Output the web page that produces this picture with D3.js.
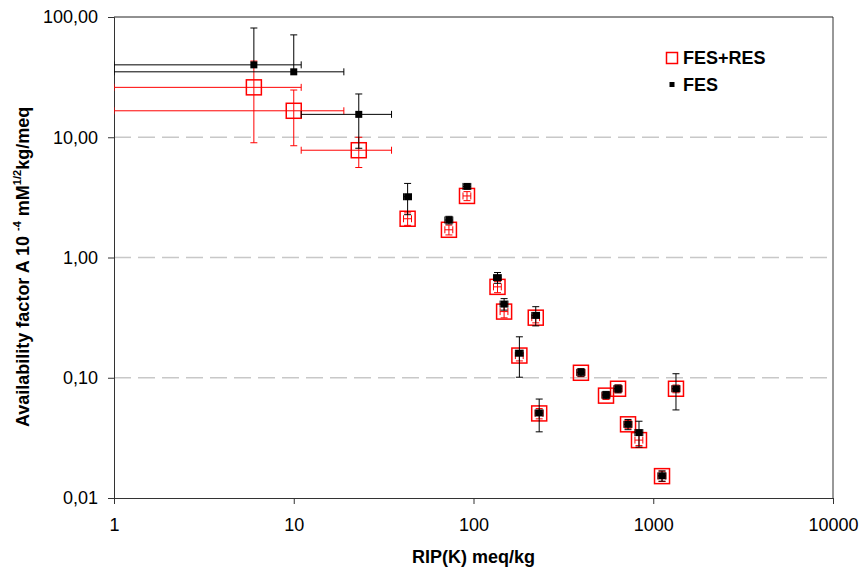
<!DOCTYPE html>
<html><head><meta charset="utf-8">
<script src="https://cdn.jsdelivr.net/npm/d3@7"></script>
<style>body{margin:0;background:#fff}svg{display:block}text{font-family:"Liberation Sans",Arial,sans-serif}</style>
</head><body>
<svg id="c" width="862" height="572"></svg>
<script>
const xVals   = [6, 10, 23, 43, 73, 92, 136, 148, 222, 180, 232, 396, 546, 637, 724, 833, 1338, 1119];
const xErr    = [5, 9, 12, 2.2, 3.7, 4.6, 6.8, 7.4, 11, 9, 11.6, 20, 27, 32, 36, 42, 67, 56];
const fesY    = [40, 35, 15.5, 3.2, 2.05, 3.9, 0.68, 0.41, 0.33, 0.16, 0.051, 0.111, 0.072, 0.081, 0.041, 0.035, 0.081, 0.0153];
const fesErr  = [41, 36, 7.4, 0.93, 0.15, 0.15, 0.07, 0.045, 0.06, 0.059, 0.0155, 0.008, 0.005, 0.006, 0.004, 0.0085, 0.027, 0.0015];
const resY    = [26, 16.6, 7.8, 2.1, 1.7, 3.25, 0.57, 0.355, 0.316, 0.153, 0.0505, 0.11, 0.071, 0.081, 0.041, 0.0303, 0.081, 0.0152];
const resErr  = [17, 8.1, 2.2, 0.25, 0.16, 0.28, 0.06, 0.04, 0.03, 0.015, 0.005, 0.008, 0.005, 0.006, 0.003, 0.003, 0.006, 0.0015];
const xTicks  = [1, 10, 100, 1000, 10000];
const yTicks  = [0.01, 0.1, 1, 10, 100];
const yTickLabels = ["0,01", "0,10", "1,00", "10,00", "100,00"];
const gridVals = [0.1, 1, 10];
const seriesNames = ["FES+RES", "FES"];

const L = 114, R = 833, T = 17, B = 498;
const svg = d3.select("#c");
const x = d3.scaleLog().domain([1, 10000]).range([L, R]);
const y = d3.scaleLog().domain([0.01, 100]).range([B, T]);

svg.append("defs").append("clipPath").attr("id", "pc")
  .append("rect").attr("x", L).attr("y", T).attr("width", R - L).attr("height", B - T);

// gridlines
svg.append("g").selectAll("line").data(gridVals).join("line")
  .attr("x1", L).attr("x2", R).attr("y1", d => y(d)).attr("y2", d => y(d))
  .attr("stroke", "#c8c8c8").attr("stroke-width", 1.4).attr("stroke-dasharray", "17,7");

// axes
const xAxis = svg.append("g").attr("transform", `translate(0,${B})`)
  .call(d3.axisBottom(x).tickValues(xTicks).tickFormat(d3.format("d")).tickSize(6).tickPadding(14));
const yAxis = svg.append("g").attr("transform", `translate(${L},0)`)
  .call(d3.axisLeft(y).tickValues(yTicks).tickFormat((d, i) => yTickLabels[i]).tickSize(6).tickPadding(10));
[xAxis, yAxis].forEach(a => {
  a.select(".domain").attr("stroke", "#333");
  a.selectAll(".tick line").attr("stroke", "#333");
  a.selectAll(".tick text").attr("fill", "#000").style("font-size", "18px").style("font-family", '"Liberation Sans",Arial,sans-serif');
});
// top and right borders
svg.append("line").attr("x1", L).attr("x2", R).attr("y1", T).attr("y2", T).attr("stroke", "#222");
svg.append("line").attr("x1", R).attr("x2", R).attr("y1", T).attr("y2", B).attr("stroke", "#333");

const plot = svg.append("g").attr("clip-path", "url(#pc)");
const cap = 3.5;

function drawSeries(yv, ye, color) {
  const g = plot.append("g").attr("stroke", color).attr("stroke-width", 1).attr("fill", "none");
  xVals.forEach((xv, i) => {
    const cx = x(xv), cy = y(yv[i]);
    const xl = x(Math.max(xv - xErr[i], 1e-6)), xr = x(xv + xErr[i]);
    g.append("line").attr("x1", xl).attr("x2", xr).attr("y1", cy).attr("y2", cy);
    g.append("line").attr("x1", xl).attr("x2", xl).attr("y1", cy - cap).attr("y2", cy + cap);
    g.append("line").attr("x1", xr).attr("x2", xr).attr("y1", cy - cap).attr("y2", cy + cap);
    const yt = y(yv[i] + ye[i]);
    g.append("line").attr("x1", cx).attr("x2", cx).attr("y1", cy).attr("y2", yt);
    g.append("line").attr("x1", cx - cap).attr("x2", cx + cap).attr("y1", yt).attr("y2", yt);
    if (yv[i] - ye[i] > 0) {
      const yb = y(yv[i] - ye[i]);
      g.append("line").attr("x1", cx).attr("x2", cx).attr("y1", cy).attr("y2", yb);
      g.append("line").attr("x1", cx - cap).attr("x2", cx + cap).attr("y1", yb).attr("y2", yb);
    }
  });
}
drawSeries(resY, resErr, "#ff0000");
plot.append("g").selectAll("rect").data(xVals).join("rect")
  .attr("x", (d, i) => x(d) - 7.5).attr("y", (d, i) => y(resY[i]) - 7.5)
  .attr("width", 15).attr("height", 15)
  .attr("fill", "none").attr("stroke", "#ff0000").attr("stroke-width", 1.5);
drawSeries(fesY, fesErr, "#000");
plot.append("g").selectAll("rect").data(xVals).join("rect")
  .attr("x", (d, i) => x(d) - 3.5).attr("y", (d, i) => y(fesY[i]) - 3.5)
  .attr("width", 7).attr("height", 7).attr("fill", "#000");

// legend
const lg = svg.append("g");
lg.append("rect").attr("x", 666.5).attr("y", 52.5).attr("width", 11).attr("height", 11)
  .attr("fill", "none").attr("stroke", "#ff0000").attr("stroke-width", 1.5);
lg.append("rect").attr("x", 669.5).attr("y", 82).attr("width", 5).attr("height", 5).attr("fill", "#000");
lg.append("text").attr("x", 683).attr("y", 64).text(seriesNames[0])
  .style("font-size", "18px").style("font-weight", "bold");
lg.append("text").attr("x", 683).attr("y", 91).text(seriesNames[1])
  .style("font-size", "18px").style("font-weight", "bold");

// axis titles
svg.append("text").attr("x", (L + R) / 2).attr("y", 563).attr("text-anchor", "middle")
  .style("font-size", "18px").style("font-weight", "bold").text("RIP(K) meq/kg");
const yt = svg.append("text").attr("transform", "translate(29,427) rotate(-90)")
  .attr("text-anchor", "start").style("font-size", "18px").style("font-weight", "bold");
yt.append("tspan").text("Availability factor A 10 ");
yt.append("tspan").attr("dy", -8).style("font-size", "11px").text("-4");
yt.append("tspan").attr("dy", 8).text(" mM");
yt.append("tspan").attr("dy", -8).style("font-size", "11px").text("1/2");
yt.append("tspan").attr("dy", 8).text("kg/meq");
</script>
</body></html>
